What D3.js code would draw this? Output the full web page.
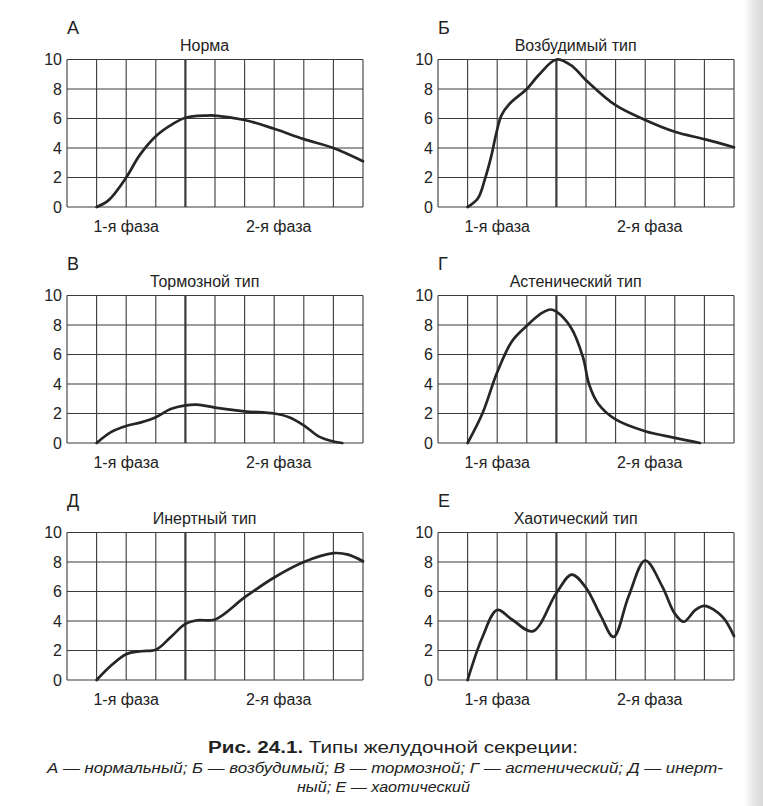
<!DOCTYPE html>
<html>
<head>
<meta charset="utf-8">
<script src="https://cdn.jsdelivr.net/npm/d3@7"></script>
<style>
  body { margin: 0; background: #fff; }
  svg { display: block; }
  text { font-family: "Liberation Sans", Arial, sans-serif; fill: #222; }
</style>
</head>
<body>
<div id="chart"></div>
<script>
var svgWidth = 763;
var svgHeight = 806;

// panel data: x = hours grid (0..10), y = secretion value
var panelLetters = ["А", "Б", "В", "Г", "Д", "Е"];
var panelTitles = ["Норма", "Возбудимый тип", "Тормозной тип", "Астенический тип", "Инертный тип", "Хаотический тип"];
var yTicks = [0, 2, 4, 6, 8, 10];
var xGrid = [0, 1, 2, 3, 4, 5, 6, 7, 8, 9, 10];
var phaseBorder = 4;
var phaseLabels = ["1-я фаза", "2-я фаза"];

var normaX = [1, 1.4, 2, 2.45, 3, 3.55, 4, 4.7, 5, 6, 7, 8, 9, 10];
var normaY = [0, 0.45, 2.0, 3.5, 4.8, 5.6, 6.05, 6.2, 6.2, 5.9, 5.3, 4.6, 4.0, 3.1];

var vozbX = [1, 1.35, 1.58, 1.8, 1.97, 2.14, 2.42, 3, 3.38, 4, 4.5, 5, 6, 7, 8, 9, 10];
var vozbY = [0, 0.6, 1.86, 3.45, 5.0, 6.2, 7.0, 8.0, 8.9, 10, 9.6, 8.6, 6.9, 5.9, 5.1, 4.6, 4.05];

var tormX = [1, 1.5, 2, 2.5, 3, 3.5, 4, 4.4, 5, 6, 7, 7.5, 8, 8.5, 9, 9.3];
var tormY = [0, 0.75, 1.15, 1.4, 1.75, 2.3, 2.55, 2.6, 2.4, 2.15, 2.0, 1.75, 1.2, 0.45, 0.1, 0];

var astenX = [1, 1.5, 2, 2.5, 3, 3.5, 3.8, 4, 4.5, 4.9, 5.1, 5.4, 6, 7, 8, 8.85];
var astenY = [0, 2.0, 4.8, 6.9, 7.95, 8.8, 9.05, 8.9, 7.8, 5.8, 4.0, 2.7, 1.6, 0.8, 0.35, 0];

var inertX = [1, 1.5, 2, 2.5, 3, 3.5, 4, 4.4, 5, 6, 7, 8, 9, 9.5, 10];
var inertY = [0, 1.0, 1.75, 1.95, 2.05, 2.9, 3.8, 4.05, 4.1, 5.6, 6.95, 8.0, 8.6, 8.5, 8.05];

var haosX = [1, 1.5, 2, 2.5, 3.2, 4, 4.52, 5, 5.5, 5.93, 6.44, 7.0, 7.57, 8, 8.3, 8.7, 9.0, 9.6, 10];
var haosY = [0, 2.9, 4.75, 4.1, 3.3, 5.9, 7.15, 6.25, 4.35, 2.92, 5.68, 8.1, 6.37, 4.5, 3.95, 4.76, 5.03, 4.3, 2.97];

var seriesX = [normaX, vozbX, tormX, astenX, inertX, haosX];
var seriesY = [normaY, vozbY, tormY, astenY, inertY, haosY];

var captionBold = "Рис. 24.1.";
var captionRest = " Типы желудочной секреции:";
var captionLine2 = "А — нормальный; Б — возбудимый; В — тормозной; Г — астенический; Д — инерт-";
var captionLine3 = "ный; Е — хаотический";

// layout
var colLeft = [67, 438];
var rowTop = [59.5, 295.5, 532.5];
var plotW = 296;
var plotH = 147.5;

var svg = d3.select("#chart")
  .append("svg")
  .attr("width", svgWidth)
  .attr("height", svgHeight);

// page edge shading on the right
var grad = svg.append("defs").append("linearGradient")
  .attr("id", "edge").attr("x1", 0).attr("x2", 1);
grad.append("stop").attr("offset", 0).attr("stop-color", "#fff");
grad.append("stop").attr("offset", 0.5).attr("stop-color", "#e6e6e6");
grad.append("stop").attr("offset", 1).attr("stop-color", "#d8d8d8");
svg.append("rect")
  .attr("x", 744).attr("y", 0)
  .attr("width", 19).attr("height", svgHeight)
  .attr("fill", "url(#edge)");

var xScale = d3.scaleLinear().domain([0, 10]).range([0, plotW]);
var yScale = d3.scaleLinear().domain([0, 10]).range([plotH, 0]);

var line = d3.line()
  .x(d => xScale(d[0]))
  .y(d => yScale(d[1]))
  .curve(d3.curveCatmullRom.alpha(0.5));

panelTitles.forEach(function(title, i) {
  var left = colLeft[i % 2];
  var top = rowTop[Math.floor(i / 2)];
  var g = svg.append("g").attr("transform", `translate(${left}, ${top})`);

  // vertical grid lines
  g.selectAll(".vgrid").data(xGrid).enter()
    .append("line")
    .attr("x1", d => xScale(d)).attr("x2", d => xScale(d))
    .attr("y1", 0).attr("y2", plotH)
    .attr("stroke", "#3a3a3a")
    .attr("stroke-width", d => d === phaseBorder ? 2.2 : 1.1);

  // horizontal grid lines
  g.selectAll(".hgrid").data(yTicks).enter()
    .append("line")
    .attr("x1", 0).attr("x2", plotW)
    .attr("y1", d => yScale(d)).attr("y2", d => yScale(d))
    .attr("stroke", "#3a3a3a")
    .attr("stroke-width", 1.1);

  // tick labels
  g.selectAll(".ylab").data(yTicks).enter()
    .append("text")
    .attr("x", -5)
    .attr("y", d => yScale(d))
    .attr("dy", "0.36em")
    .attr("text-anchor", "end")
    .attr("font-size", 16)
    .text(d => d);

  // curve
  var pts = seriesX[i].map((x, k) => [x, seriesY[i][k]]);
  g.append("path")
    .datum(pts)
    .attr("d", line)
    .attr("fill", "none")
    .attr("stroke", "#262626")
    .attr("stroke-width", 2.7)
    .attr("stroke-linecap", "round")
    .attr("stroke-linejoin", "round");

  // panel letter and title
  g.append("text")
    .attr("x", 0)
    .attr("y", -26)
    .attr("font-size", 18)
    .text(panelLetters[i]);

  g.append("text")
    .attr("x", xScale(4.65))
    .attr("y", -9)
    .attr("text-anchor", "middle")
    .attr("font-size", 16)
    .text(title);

  // phase labels
  g.append("text")
    .attr("x", xScale(2))
    .attr("y", plotH + 25)
    .attr("text-anchor", "middle")
    .attr("font-size", 16)
    .text(phaseLabels[0]);
  g.append("text")
    .attr("x", xScale(7.15))
    .attr("y", plotH + 25)
    .attr("text-anchor", "middle")
    .attr("font-size", 16)
    .text(phaseLabels[1]);
});

// caption
var cap = svg.append("text")
  .attr("x", 208).attr("y", 753)
  .attr("font-size", 16)
  .attr("font-family", "'Liberation Sans Narrow', 'Liberation Sans', Arial, sans-serif")
  .attr("textLength", 370)
  .attr("lengthAdjust", "spacingAndGlyphs");
cap.append("tspan").attr("font-weight", "bold").text(captionBold);
cap.append("tspan").text(captionRest);

svg.append("text")
  .attr("x", 47).attr("y", 773)
  .attr("font-size", 14)
  .attr("font-style", "italic")
  .attr("font-family", "'Liberation Sans Narrow', 'Liberation Sans', Arial, sans-serif")
  .attr("textLength", 676)
  .attr("lengthAdjust", "spacingAndGlyphs")
  .text(captionLine2);

svg.append("text")
  .attr("x", 297).attr("y", 792)
  .attr("font-size", 14)
  .attr("font-style", "italic")
  .attr("font-family", "'Liberation Sans Narrow', 'Liberation Sans', Arial, sans-serif")
  .attr("textLength", 173)
  .attr("lengthAdjust", "spacingAndGlyphs")
  .text(captionLine3);
</script>
</body>
</html>
